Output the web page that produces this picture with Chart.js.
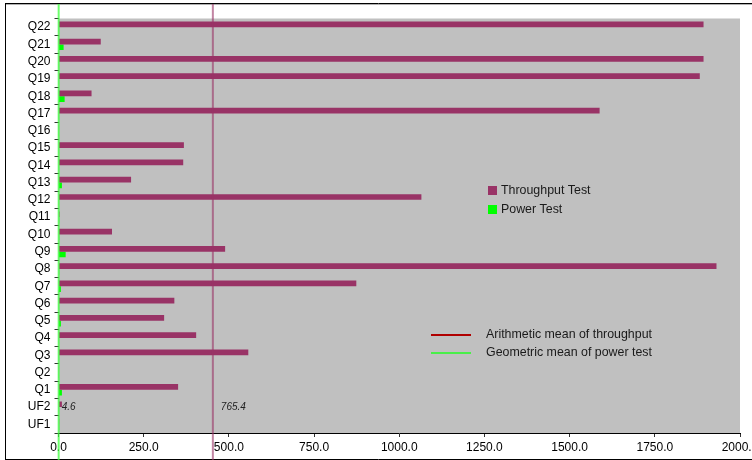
<!DOCTYPE html>
<html>
<head>
<meta charset="utf-8">
<script src="https://cdn.jsdelivr.net/npm/chart.js@4.4.1/dist/chart.umd.min.js"></script>
<style>
  html, body { margin: 0; padding: 0; background: #ffffff; }
  #wrap { position: relative; width: 752px; height: 460px; }
</style>
</head>
<body>
<div id="wrap"><canvas id="c" width="752" height="460"></canvas></div>
<script>
const categories = ["Q22","Q21","Q20","Q19","Q18","Q17","Q16","Q15","Q14","Q13","Q12","Q11","Q10","Q9","Q8","Q7","Q6","Q5","Q4","Q3","Q2","Q1","UF2","UF1"];
const throughputValues = [1893,124,1893,1882,97,1588,0.5,368,366,213,1065,3,157,489,1931,874,340,310,404,557,0.5,351,10,2];
const powerValues = [1,15,1,1,18,1,0.5,1,1,10,1,2,2,21,2,7,1,7,1,1,0.5,10,1,2];
const xTicks = [0,250,500,750,1000,1250,1500,1750,2000];
const throughputMeanPos = 453;
const powerMeanPos = 0.5;
const throughputMeanLabel = "765.4";
const powerMeanLabel = "4.6";
const seriesNames = ["Throughput Test","Power Test"];
const meanNames = ["Arithmetic mean of throughput","Geometric mean of power test"];

const FONT = "'Liberation Sans', Arial, sans-serif";

const decor = {
  id: 'decor',
  beforeDraw(chart) {
    const {ctx, chartArea: a} = chart;
    ctx.save();
    ctx.fillStyle = '#ffffff';
    ctx.fillRect(0, 0, chart.width, chart.height);
    ctx.fillStyle = '#c0c0c0';
    ctx.fillRect(a.left, a.top, a.right - a.left, a.bottom - a.top);
    ctx.restore();
  },
  afterDraw(chart) {
    const {ctx} = chart;
    const xs = chart.scales.x;
    ctx.save();
    // frame
    ctx.strokeStyle = '#000';
    ctx.lineWidth = 1;
    ctx.beginPath();
    ctx.moveTo(5, 3.5); ctx.lineTo(752, 3.5);
    ctx.moveTo(5.5, 3); ctx.lineTo(5.5, 459.5);
    ctx.moveTo(5, 459.5); ctx.lineTo(752, 459.5);
    ctx.stroke();
    ctx.strokeStyle = '#b0b0b0';
    ctx.beginPath();
    ctx.moveTo(6, 4.5); ctx.lineTo(752, 4.5);
    ctx.stroke();
    // mean lines
    const px1 = xs.getPixelForValue(throughputMeanPos);
    ctx.strokeStyle = 'rgba(153,51,102,0.6)';
    ctx.lineWidth = 2;
    ctx.beginPath(); ctx.moveTo(px1, 4); ctx.lineTo(px1, 460); ctx.stroke();
    const px2 = xs.getPixelForValue(powerMeanPos);
    ctx.strokeStyle = 'rgba(60,255,60,0.75)';
    ctx.lineWidth = 2;
    ctx.beginPath(); ctx.moveTo(px2, 4); ctx.lineTo(px2, 460); ctx.stroke();
    // mean labels
    ctx.fillStyle = '#222';
    ctx.font = 'italic 10px ' + FONT;
    ctx.textBaseline = 'middle';
    ctx.textAlign = 'left';
    ctx.fillText(powerMeanLabel, px2 + 3, 407);
    ctx.fillText(throughputMeanLabel, px1 + 8, 407);
    // series legend
    ctx.font = '12.4px ' + FONT;
    ctx.fillStyle = '#993366';
    ctx.fillRect(488, 186, 9, 9);
    ctx.fillStyle = '#00ff00';
    ctx.fillRect(488, 205, 9, 9);
    ctx.fillStyle = '#1a1a1a';
    ctx.fillText(seriesNames[0], 501, 191);
    ctx.fillText(seriesNames[1], 501, 210);
    // mean legend
    ctx.strokeStyle = '#b00000';
    ctx.lineWidth = 2;
    ctx.beginPath(); ctx.moveTo(431, 335); ctx.lineTo(471, 335); ctx.stroke();
    ctx.strokeStyle = '#22ff22';
    ctx.lineWidth = 1.5;
    ctx.beginPath(); ctx.moveTo(431, 353); ctx.lineTo(471, 353); ctx.stroke();
    ctx.fillStyle = '#1a1a1a';
    ctx.fillText(meanNames[0], 486, 335);
    ctx.fillText(meanNames[1], 486, 353);
    ctx.restore();
  }
};

new Chart(document.getElementById('c'), {
  type: 'bar',
  data: {
    labels: categories,
    datasets: [
      { label: seriesNames[0], data: throughputValues, backgroundColor: '#993366', borderWidth: 0, categoryPercentage: 0.66, barPercentage: 1.0 },
      { label: seriesNames[1], data: powerValues, backgroundColor: '#00ff00', borderWidth: 0, categoryPercentage: 0.66, barPercentage: 1.0 }
    ]
  },
  options: {
    indexAxis: 'y',
    responsive: false,
    animation: false,
    devicePixelRatio: 1,
    layout: { padding: { left: 0, right: 12, top: 18.5, bottom: 0 } },
    plugins: { legend: { display: false }, tooltip: { enabled: false } },
    scales: {
      x: {
        type: 'linear',
        min: 0, max: 2000,
        afterBuildTicks(s) { s.ticks = xTicks.map(v => ({ value: v })); },
        afterFit(s) { s.height = 27; s.paddingLeft = 0; s.paddingRight = 0; },
        grid: { drawOnChartArea: false, drawTicks: true, tickLength: 4, color: '#000', tickColor: '#333' },
        border: { display: true, color: '#000', width: 1 },
        ticks: {
          autoSkip: false, maxRotation: 0, padding: 3,
          color: '#000', font: { family: FONT, size: 12 },
          callback: v => Number(v).toFixed(1)
        }
      },
      y: {
        type: 'category',
        offset: true,
        afterFit(s) { s.width = 58.5; },
        grid: { drawOnChartArea: false, drawTicks: true, tickLength: 4, offset: true, tickColor: '#333' },
        border: { display: false },
        ticks: { autoSkip: false, padding: 4, color: '#000', font: { family: FONT, size: 12 } }
      }
    }
  },
  plugins: [decor]
});
</script>
</body>
</html>
